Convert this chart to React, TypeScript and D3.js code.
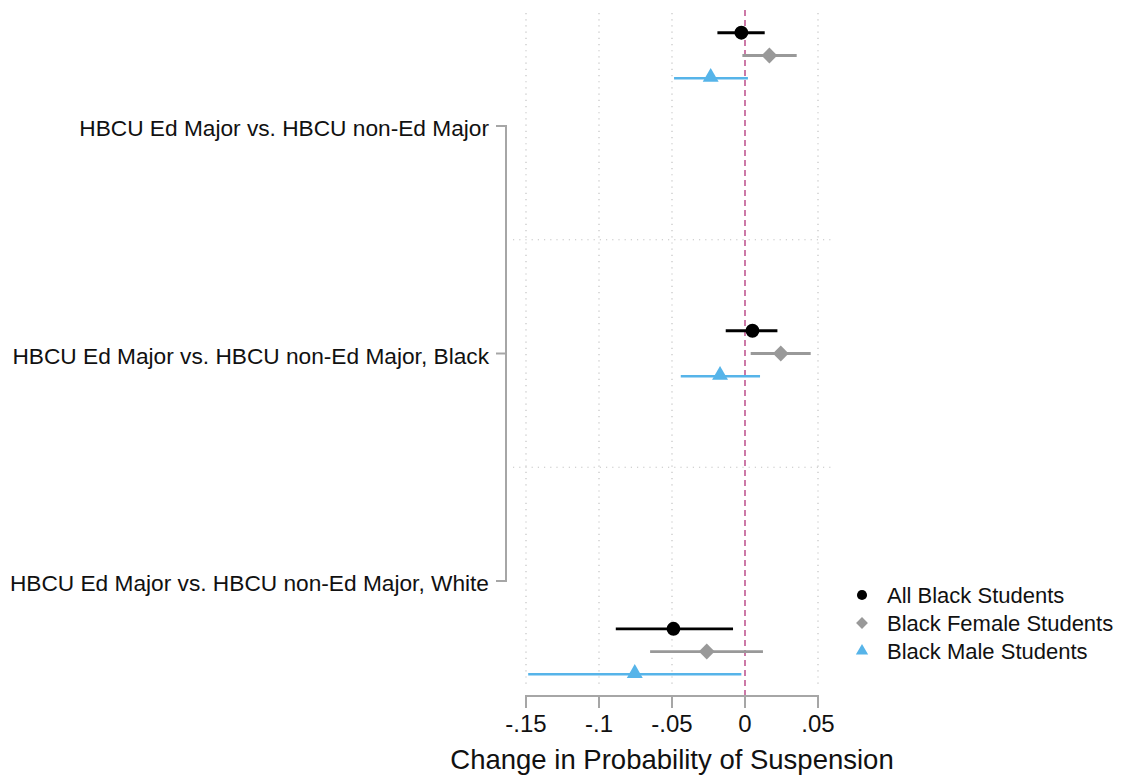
import { useEffect, useRef } from 'react'
import * as d3 from 'd3'

// comparisons shown on the y axis (top to bottom)
const comparisons = [
  'HBCU Ed Major vs. HBCU non-Ed Major',
  'HBCU Ed Major vs. HBCU non-Ed Major, Black',
  'HBCU Ed Major vs. HBCU non-Ed Major, White',
]
// y position (axis units) of each group of estimates
const groupPos = [0.69, 2.0, 3.31]

const seriesNames = ['All Black Students', 'Black Female Students', 'Black Male Students']
const seriesOffset = [-0.1, 0, 0.1]

// point estimates and 95% CIs, one row per comparison
const allBlack = [-0.0025, 0.0051, -0.049]
const allBlackLo = [-0.0189, -0.0132, -0.0885]
const allBlackHi = [0.0135, 0.0222, -0.0082]

const femaleEst = [0.0167, 0.0245, -0.0262]
const femaleLo = [-0.0018, 0.0039, -0.065]
const femaleHi = [0.0354, 0.045, 0.0123]

const maleEst = [-0.0235, -0.0171, -0.0755]
const maleLo = [-0.0486, -0.044, -0.1485]
const maleHi = [0.002, 0.0103, -0.0025]

const xTicks = [-0.15, -0.1, -0.05, 0, 0.05]
const xTickLabels = ['-.15', '-.1', '-.05', '0', '.05']

const FONT = '"Liberation Sans", Arial, Helvetica, sans-serif'
const colors = ['#000000', '#999999', '#56B4E9']
// diamond = square turned 45 degrees
const symbols = [d3.symbolCircle, d3.symbolSquare, d3.symbolTriangle]
const rotations = [0, 45, 0]

export default function App() {
  const ref = useRef<SVGSVGElement>(null)

  useEffect(() => {
    const svg = d3.select(ref.current)
    svg.selectAll('*').remove()

    const x = d3.scaleLinear().domain([-0.15, 0.05]).range([526, 818])
    const y = d3.scaleLinear().domain([1, 3]).range([126, 581])
    const plotLeft = 513
    const plotRight = 833
    const plotTop = y(0.49)
    const plotBottom = y(3.49)

    const g = svg.append('g')

    // vertical grid
    g.selectAll('line.vgrid')
      .data(xTicks.filter(d => d !== 0))
      .enter()
      .append('line')
      .attr('x1', d => x(d)).attr('x2', d => x(d))
      .attr('y1', plotTop + 3).attr('y2', plotBottom - 4)
      .attr('stroke', '#c4c4c4')
      .attr('stroke-width', 1.2)
      .attr('stroke-dasharray', '1.2 5')

    // horizontal separators between comparisons
    g.selectAll('line.hgrid')
      .data([1.5, 2.5])
      .enter()
      .append('line')
      .attr('x1', plotLeft).attr('x2', plotRight)
      .attr('y1', d => y(d)).attr('y2', d => y(d))
      .attr('stroke', '#c4c4c4')
      .attr('stroke-width', 1.2)
      .attr('stroke-dasharray', '1.2 5')

    // zero reference line
    g.append('line')
      .attr('x1', x(0)).attr('x2', x(0))
      .attr('y1', plotTop).attr('y2', y(3.51))
      .attr('stroke', '#CC79A7')
      .attr('stroke-width', 2)
      .attr('stroke-dasharray', '6 4')

    // x axis
    const axisColor = '#a6a6a6'
    g.append('line')
      .attr('x1', x(-0.15)).attr('x2', x(0.05))
      .attr('y1', 696).attr('y2', 696)
      .attr('stroke', axisColor).attr('stroke-width', 2)
    g.selectAll('line.xtick')
      .data(xTicks)
      .enter()
      .append('line')
      .attr('x1', d => x(d)).attr('x2', d => x(d))
      .attr('y1', 695).attr('y2', 708)
      .attr('stroke', axisColor).attr('stroke-width', 2)
    g.selectAll('text.xtick')
      .data(xTicks)
      .enter()
      .append('text')
      .attr('x', d => x(d))
      .attr('y', 732)
      .attr('text-anchor', 'middle')
      .style('font-family', FONT)
      .style('font-size', '24px')
      .attr('fill', '#111')
      .text((d, i) => xTickLabels[i])
    g.append('text')
      .attr('x', x(-0.05))
      .attr('y', 769)
      .attr('text-anchor', 'middle')
      .style('font-family', FONT)
      .style('font-size', '27.5px')
      .attr('fill', '#111')
      .text('Change in Probability of Suspension')

    // y axis
    g.append('line')
      .attr('x1', 506).attr('x2', 506)
      .attr('y1', y(1) - 1).attr('y2', y(3) + 1)
      .attr('stroke', axisColor).attr('stroke-width', 2)
    g.selectAll('line.ytick')
      .data(comparisons)
      .enter()
      .append('line')
      .attr('x1', 496).attr('x2', 507)
      .attr('y1', (d, i) => y(i + 1)).attr('y2', (d, i) => y(i + 1))
      .attr('stroke', axisColor).attr('stroke-width', 2)
    g.selectAll('text.ylab')
      .data(comparisons)
      .enter()
      .append('text')
      .attr('x', 489)
      .attr('y', (d, i) => y(i + 1) + 10)
      .attr('text-anchor', 'end')
      .style('font-family', FONT)
      .style('font-size', '22.7px')
      .attr('fill', '#111')
      .text(d => d)

    // estimates
    const series = [
      { est: allBlack, lo: allBlackLo, hi: allBlackHi, size: 150, width: 2.8 },
      { est: femaleEst, lo: femaleLo, hi: femaleHi, size: 125, width: 2.8 },
      { est: maleEst, lo: maleLo, hi: maleHi, size: 110, width: 2.6 },
    ]
    series.forEach((s, k) => {
      const rows = s.est.map((v, i) => ({ v, lo: s.lo[i], hi: s.hi[i], pos: groupPos[i] + seriesOffset[k] }))
      const sg = g.append('g')
      sg.selectAll('line')
        .data(rows)
        .enter()
        .append('line')
        .attr('x1', d => x(d.lo)).attr('x2', d => x(d.hi))
        .attr('y1', d => y(d.pos)).attr('y2', d => y(d.pos))
        .attr('stroke', colors[k])
        .attr('stroke-width', s.width)
      sg.selectAll('path')
        .data(rows)
        .enter()
        .append('path')
        .attr('d', d3.symbol().type(symbols[k]).size(s.size)())
        .attr('transform', d => `translate(${x(d.v)},${y(d.pos) - (k === 2 ? 1 : 0)}) rotate(${rotations[k]})`)
        .attr('fill', colors[k])
    })

    // legend
    const legend = g.append('g').attr('transform', 'translate(862,595)')
    const item = legend.selectAll('g')
      .data(seriesNames)
      .enter()
      .append('g')
      .attr('transform', (d, i) => `translate(0,${i * 28})`)
    item.append('path')
      .attr('d', (d, i) => d3.symbol().type(symbols[i]).size([80, 70, 65][i])())
      .attr('transform', (d, i) => `rotate(${rotations[i]})`)
      .attr('fill', (d, i) => colors[i])
    item.append('text')
      .attr('x', 25)
      .attr('y', 7.5)
      .style('font-family', FONT)
      .style('font-size', '22px')
      .attr('fill', '#111')
      .text(d => d)
  }, [])

  return (
    <div style={{ position: 'absolute', left: 0, top: 0 }}>
      <svg ref={ref} width={1130} height={779} style={{ display: 'block', background: '#fff' }} />
    </div>
  )
}
